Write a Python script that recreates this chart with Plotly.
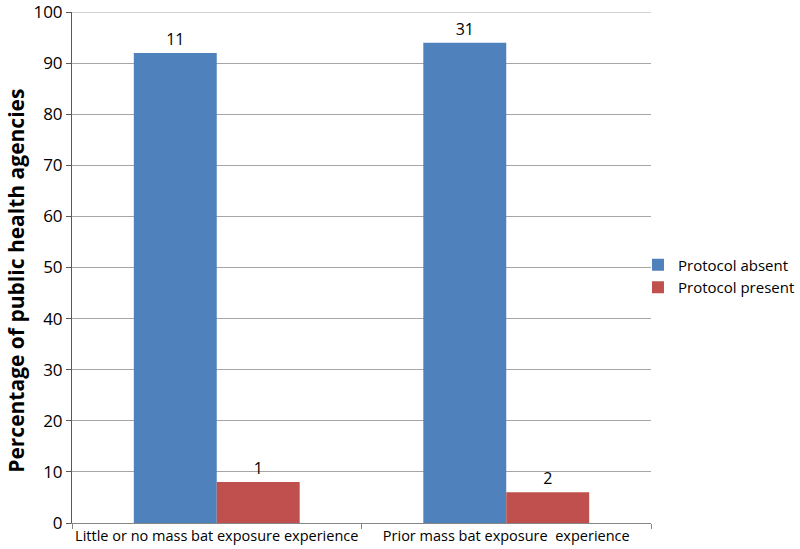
import plotly.graph_objects as go

categories = ["Little or no mass bat exposure experience", "Prior mass bat exposure  experience"]
absent_pct = [92, 94]
present_pct = [8, 6]
absent_counts = ["11", "31"]
present_counts = ["1", "2"]
y_ticks = [0, 10, 20, 30, 40, 50, 60, 70, 80, 90, 100]
y_title = "Percentage of public health agencies"

FONT = "Open Sans, sans-serif"

fig = go.Figure()
fig.add_trace(go.Bar(
    x=categories, y=absent_pct, name="Protocol absent",
    marker=dict(color="#4F81BD", line=dict(width=0)),
    text=absent_counts, textposition="outside", cliponaxis=False,
    textfont=dict(size=16, color="black", family=FONT),
))
fig.add_trace(go.Bar(
    x=categories, y=present_pct, name="Protocol present",
    marker=dict(color="#C0504D", line=dict(width=0)),
    text=present_counts, textposition="outside", cliponaxis=False,
    textfont=dict(size=16, color="black", family=FONT),
))

fig.update_layout(
    width=800, height=549,
    margin=dict(l=72, r=149, t=12, b=26, autoexpand=False),
    paper_bgcolor="white", plot_bgcolor="white",
    barmode="group", bargap=0.427, bargroupgap=0,
    font=dict(family=FONT, color="black"),
    showlegend=True,
    legend=dict(x=0.9775, y=0.4835, xanchor="left", yanchor="middle",
                font=dict(size=15, family=FONT), itemwidth=30,
                tracegroupgap=0, bgcolor="rgba(0,0,0,0)"),
    annotations=[dict(
        text="<b>" + y_title + "</b>", textangle=-90,
        xref="paper", yref="paper", x=-0.0967, y=0.474,
        xanchor="center", yanchor="middle", showarrow=False,
        font=dict(size=21, family=FONT, color="black"),
    )],
    shapes=[dict(type="line", xref="paper", yref="y", x0=0, x1=1, y0=100, y1=100,
                 line=dict(color="#A6A6A6", width=1), layer="below")],
)
fig.update_xaxes(
    automargin=False, tickangle=0,
    showline=True, linecolor="#868686", linewidth=1,
    ticks="outside", tickson="boundaries", ticklen=5, tickcolor="#868686",
    tickfont=dict(size=14.5, family=FONT), showgrid=False,
)
fig.update_yaxes(
    automargin=False,
    range=[0, 100], tickvals=y_ticks,
    showline=True, linecolor="#595959", linewidth=1,
    ticks="outside", ticklen=5, tickcolor="#595959",
    showgrid=True, gridcolor="#A6A6A6", gridwidth=1,
    tickfont=dict(size=17, family=FONT), ticklabeloverflow="allow",
    zeroline=False,
)
fig.write_html("out.html", config={"displayModeBar": False},
               post_script="document.body.style.margin='0';")
